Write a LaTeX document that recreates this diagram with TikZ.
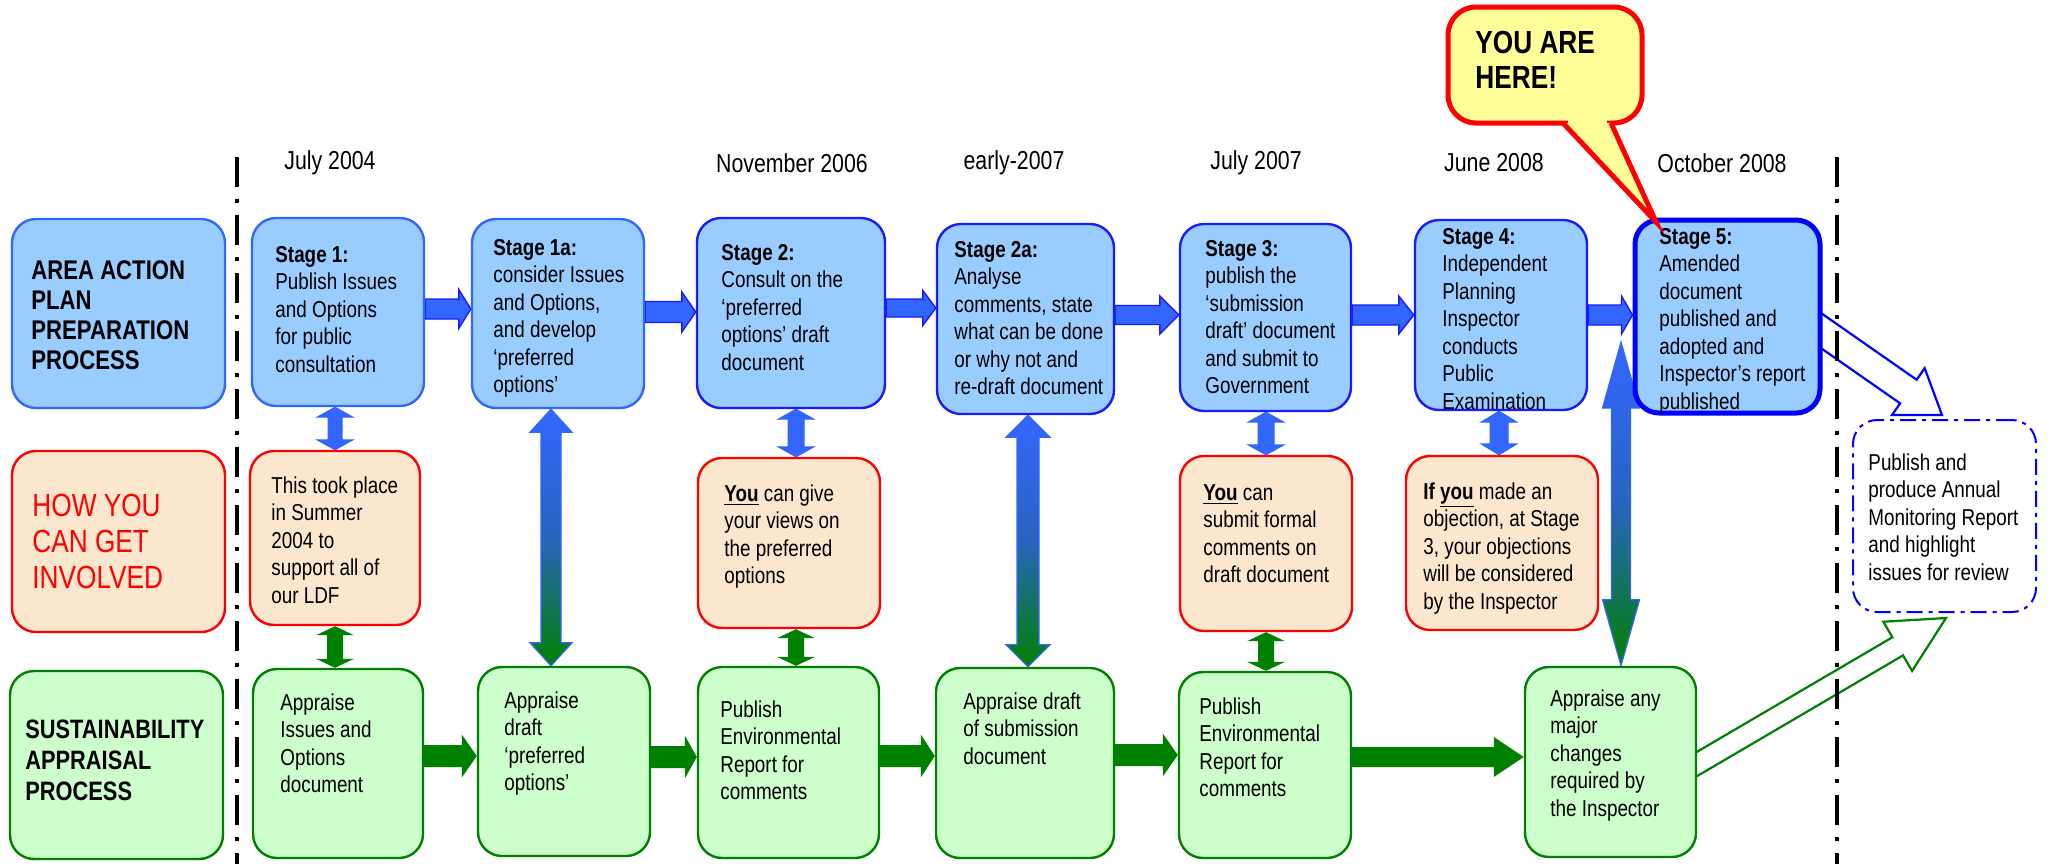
\documentclass[tikz,border=0pt]{standalone}
\usepackage{fontspec}
\setmainfont{Liberation Sans}[FakeStretch=0.82]
\usetikzlibrary{calc,fit}
\pgfdeclarelayer{back}
\pgfdeclarelayer{bg}
\pgfsetlayers{back,bg,main}
\definecolor{bfill}{HTML}{99CCFF}
\definecolor{bline}{HTML}{3366FF}
\definecolor{bdark}{HTML}{1A1AFF}
\definecolor{ofill}{HTML}{FBE6CE}
\definecolor{gfill}{HTML}{CCFFCC}
\definecolor{gline}{HTML}{008000}
\definecolor{yfill}{HTML}{FFFF99}
\definecolor{arrblue}{HTML}{3366FF}
\definecolor{pblue}{HTML}{0000FF}
\newcommand\sarrow[6]{%
  \coordinate (arrA) at (#2);
  \coordinate (arrB) at (#3);
  \coordinate (arrN) at ($(arrB)!#6!(arrA)$);
  \path[#1] ($(arrA)!#4!90:(arrB)$) -- ($(arrN)!#4!90:(arrB)$) -- ($(arrN)!#5!90:(arrB)$) -- (arrB) -- ($(arrN)!#5!-90:(arrB)$) -- ($(arrN)!#4!-90:(arrB)$) -- ($(arrA)!#4!-90:(arrB)$) -- cycle;}
\newcommand\darrow[6]{%
  \coordinate (arrA) at (#2);
  \coordinate (arrB) at (#3);
  \coordinate (arrM) at ($(arrA)!#6!(arrB)$);
  \coordinate (arrN) at ($(arrB)!#6!(arrA)$);
  \path[#1] (arrA) -- ($(arrM)!#5!90:(arrB)$) -- ($(arrM)!#4!90:(arrB)$) -- ($(arrN)!#4!-90:(arrA)$) -- ($(arrN)!#5!-90:(arrA)$) -- (arrB) -- ($(arrN)!#5!90:(arrA)$) -- ($(arrN)!#4!90:(arrA)$) -- ($(arrM)!#4!-90:(arrB)$) -- ($(arrM)!#5!-90:(arrB)$) -- cycle;}
\tikzset{
  box/.style={rounded corners=12pt, line width=1.2pt, inner sep=0pt},
  bluebox/.style={box, fill=bfill, draw=bline},
  bluebox2/.style={box, fill=bfill, draw=bdark},
  orangebox/.style={box, fill=ofill, draw=red},
  greenbox/.style={box, fill=gfill, draw=gline},
  pubbox/.style={box, fill=white, draw=pblue, line width=1pt, dash pattern=on 8pt off 3pt on 2pt off 3pt},
  txt/.style={anchor=north west, inner sep=0pt, align=left, font=\fontsize{11.5}{13.75}\selectfont},
  lab/.style={anchor=north west, inner sep=0pt, align=left, font=\fontsize{13.5}{15}\selectfont\bfseries},
  date/.style={inner sep=0pt, font=\fontsize{13}{15}\selectfont},
  sepline/.style={line width=2pt, dash pattern=on 15pt off 6pt on 2pt off 6pt},
  blockblue/.style={fill=arrblue, draw=bdark, line width=0.7pt},
  blockgreen/.style={fill=gline},
  dblue/.style={fill=arrblue, draw=arrblue, line width=0.5pt},
  grad/.style={top color=arrblue, bottom color=gline, middle color={rgb,255:red,40;green,100;blue,190}, draw=arrblue, line width=0.6pt},
  hollowblue/.style={fill=white, draw=pblue, line width=1.1pt},
  hollowgreen/.style={fill=white, draw=gline, line width=1.1pt},
}
\begin{document}
\begin{tikzpicture}[x=0.5pt,y=-0.5pt]
\begin{pgfonlayer}{back}
\fill[white] (0,0) rectangle (2051,864);
\end{pgfonlayer}
\useasboundingbox (0,0) rectangle (2051,864);

% separators
\draw[sepline] (237,157) -- (237,864);
\draw[sepline] (1837,157) -- (1837,864);

% dates
\node[date] (d1) at (330,163) {July 2004};
\node[date] (d2) at (792,163) {November 2006};
\node[date] (d3) at (1014,163) {early-2007};
\node[date] (d4) at (1256,163) {July 2007};
\node[date] (d5) at (1494,163) {June 2008};
\node[date] (d6) at (1722,163) {October 2008};

% row 1
\node[bluebox, fit={(12,219) (225,408)}] (aap) {};
\node[bluebox, fit={(252,218) (424,406)}] (s1) {};
\node[bluebox, fit={(472,219) (644,408)}] (s1a) {};
\node[bluebox2, fit={(697,218) (885,408)}] (s2) {};
\node[bluebox2, fit={(937,224) (1114,414)}] (s2a) {};
\node[bluebox2, fit={(1180,224) (1351,411)}] (s3) {};
\node[bluebox2, fit={(1415,220) (1587,410)}] (s4) {};
\node[box, fill=bfill, draw=pblue, line width=2.5pt, fit={(1635,220) (1820,413)}] (s5) {};

% row 2
\node[orangebox, fit={(12,451) (225,632)}] (how) {};
\node[orangebox, fit={(250,451) (420,625)}] (o1) {};
\node[orangebox, fit={(698,458) (880,628)}] (o2) {};
\node[orangebox, fit={(1180,456) (1352,631)}] (o3) {};
\node[orangebox, fit={(1406,456) (1598,630)}] (o4) {};
\node[pubbox, fit={(1853,420) (2036,612)}] (pub) {};

% row 3
\node[greenbox, fit={(10,671) (223,859)}] (sa) {};
\node[greenbox, fit={(253,669) (423,858)}] (g1) {};
\node[greenbox, fit={(478,667) (650,856)}] (g2) {};
\node[greenbox, fit={(698,667) (879,858)}] (g3) {};
\node[greenbox, fit={(936,668) (1114,858)}] (g4) {};
\node[greenbox, fit={(1179,672) (1351,858)}] (g5) {};
\node[greenbox, fit={(1525,667) (1696,857)}] (g6) {};

% texts
\node[lab] (aapt) at (31,260) {AREA ACTION\\PLAN\\PREPARATION\\PROCESS};
\node[lab, text=red, font=\fontsize{16}{18}\selectfont] (howt) at (32,494) {HOW YOU\\CAN GET\\INVOLVED};
\node[lab, font=\fontsize{13.3}{15.5}\selectfont\bfseries] (sat) at (25,720) {SUSTAINABILITY\\APPRAISAL\\PROCESS};

\node[txt] (s1t) at (275,246) {\textbf{Stage 1:}\\Publish Issues\\and Options\\for public\\consultation};
\node[txt] (s1at) at (493,239) {\textbf{Stage 1a:}\\consider Issues\\and Options,\\and develop\\‘preferred\\options’};
\node[txt] (s2t) at (721,244) {\textbf{Stage 2:}\\Consult on the\\‘preferred\\options’ draft\\document};
\node[txt] (s2at) at (954,241) {\textbf{Stage 2a:}\\Analyse\\comments, state\\what can be done\\or why not and\\re-draft document};
\node[txt] (s3t) at (1205,240) {\textbf{Stage 3:}\\publish the\\‘submission\\draft’ document\\and submit to\\Government};
\node[txt] (s4t) at (1442,228) {\textbf{Stage 4:}\\Independent\\Planning\\Inspector\\conducts\\Public\\Examination};
\node[txt] (s5t) at (1659,228) {\textbf{Stage 5:}\\Amended\\document\\published and\\adopted and\\Inspector’s report\\published};

\node[txt] (o1t) at (271,476) {This took place\\in Summer\\2004 to\\support all of\\our LDF};
\node[txt] (o2t) at (724,484) {\underline{\textbf{You}} can give\\your views on\\the preferred\\options};
\node[txt] (o3t) at (1203,484) {\underline{\textbf{You}} can\\submit formal\\comments on\\draft document};
\node[txt] (o4t) at (1423,482) {\textbf{If} \underline{\textbf{you}} made an\\objection, at Stage\\3, your objections\\will be considered\\by the Inspector};
\node[txt] (pubt) at (1868,453) {Publish and\\produce Annual\\Monitoring Report\\and highlight\\issues for review};

\node[txt] (g1t) at (280,693) {Appraise\\Issues and\\Options\\document};
\node[txt] (g2t) at (504,691) {Appraise\\draft\\‘preferred\\options’};
\node[txt] (g3t) at (720,700) {Publish\\Environmental\\Report for\\comments};
\node[txt] (g4t) at (963,692) {Appraise draft\\of submission\\document};
\node[txt] (g5t) at (1199,697) {Publish\\Environmental\\Report for\\comments};
\node[txt] (g6t) at (1550,689) {Appraise any\\major\\changes\\required by\\the Inspector};

% callout
\node[box, fill=yfill, draw=red, line width=2.5pt, rounded corners=14pt, fit={(1448,7) (1642,123)}] (yah) {};
\coordinate (pA) at (1563,123);
\coordinate (pB) at (1611,123);
\coordinate (ptip) at (1656,222);
\fill[yfill] (pA) -- (ptip) -- (pB) -- cycle;
\fill[yfill] (1568,118) rectangle (1607,128);
\draw[red, line width=2.5pt, line join=miter] (pA) -- (ptip) -- (pB);
\node[anchor=north west, inner sep=0pt, align=left, font=\fontsize{16}{17.5}\selectfont\bfseries] (yaht) at (1475,31) {YOU ARE\\HERE!};

% helper coordinates
\coordinate (ya) at (0,309); \coordinate (yb) at (0,312); \coordinate (yc) at (0,308);
\coordinate (yd) at (0,315);
\coordinate (ga) at (0,756); \coordinate (gb) at (0,757); \coordinate (gc) at (0,755);
\coordinate (v1) at (335,0); \coordinate (v2) at (551,0); \coordinate (v3) at (796,0);
\coordinate (v4) at (1028,0); \coordinate (v5) at (1266,0); \coordinate (v6) at (1499,0);
\coordinate (v7) at (1621,0);
\coordinate (s5arr) at (1621,342);
\coordinate (hbA) at (1780,302); \coordinate (hbT) at (1942,415);
\coordinate (hgA) at (1656,788); \coordinate (hgT) at (1946,618);

\begin{pgfonlayer}{bg}
% row 1 arrows
\sarrow{blockblue}{s1.east |- ya}{s1a.west |- ya}{5pt}{9.75pt}{6pt}
\sarrow{blockblue}{s1a.east |- yb}{s2.west |- yb}{5.25pt}{10pt}{7pt}
\sarrow{blockblue}{s2.east |- yc}{s2a.west |- yc}{4.5pt}{8.75pt}{6.5pt}
\sarrow{blockblue}{s2a.east |- yd}{s3.west |- yd}{4.75pt}{9.5pt}{9.5pt}
\sarrow{blockblue}{s3.east |- yd}{s4.west |- yd}{5pt}{9.5pt}{7.5pt}
\sarrow{blockblue}{s4.east |- yd}{s5.west |- yd}{5pt}{9.5pt}{5.5pt}
% row 3 arrows
\sarrow{blockgreen}{g1.east |- ga}{g2.west |- ga}{5.5pt}{10.75pt}{7.5pt}
\sarrow{blockgreen}{g2.east |- gb}{g3.west |- gb}{5.5pt}{10.75pt}{6pt}
\sarrow{blockgreen}{g3.east |- ga}{g4.west |- ga}{5.5pt}{10.75pt}{7pt}
\sarrow{blockgreen}{g4.east |- gc}{g5.west |- gc}{5.5pt}{10.75pt}{7.5pt}
\sarrow{blockgreen}{g5.east |- gb}{g6.west |- gb}{5pt}{10pt}{15pt}
% vertical double arrows
\darrow{dblue}{s1.south -| v1}{o1.north -| v1}{3.5pt}{9pt}{5pt}
\darrow{blockgreen}{o1.south -| v1}{g1.north -| v1}{4pt}{9.5pt}{4.5pt}
\darrow{grad}{s1a.south -| v2}{g2.north -| v2}{5pt}{10.5pt}{11.5pt}
\darrow{dblue}{s2.south -| v3}{o2.north -| v3}{4pt}{9pt}{5pt}
\darrow{blockgreen}{o2.south -| v3}{g3.north -| v3}{4pt}{9.5pt}{4.5pt}
\darrow{grad}{s2a.south -| v4}{g4.north -| v4}{5.5pt}{11pt}{11pt}
\darrow{dblue}{s3.south -| v5}{o3.north -| v5}{4pt}{9pt}{5pt}
\darrow{blockgreen}{o3.south -| v5}{g5.north -| v5}{4pt}{9.5pt}{4.5pt}
\darrow{dblue}{s4.south -| v6}{o4.north -| v6}{4.5pt}{9pt}{5.5pt}
\darrow{grad}{s5arr}{g6.north -| v7}{4.75pt}{9.25pt}{33pt}
% hollow arrows
\sarrow{hollowblue}{hbA}{hbT}{7.2pt}{14.25pt}{20.5pt}
\sarrow{hollowgreen}{hgA}{hgT}{5.25pt}{14.25pt}{28pt}
\end{pgfonlayer}
\end{tikzpicture}
\end{document}
